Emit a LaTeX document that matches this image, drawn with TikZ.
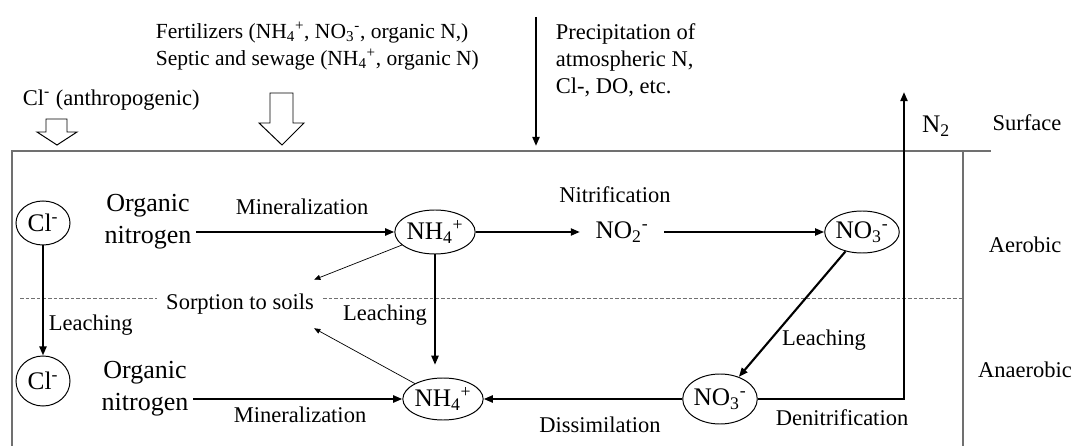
\documentclass[tikz,border=0pt]{standalone}
\usepackage{fontspec}
\setmainfont{Liberation Serif}
\usepackage{xcolor}
\usetikzlibrary{shapes.geometric, arrows.meta}
\definecolor{framegray}{HTML}{707070}

\begin{document}
\begin{tikzpicture}[
    x=0.025cm, y=-0.025cm,
    every node/.style={font=\fontsize{16}{19.2}\selectfont},
    species/.style={
        ellipse,
        draw,
        line width=0.7pt,
        inner sep=0pt,
        font=\fontsize{18}{20}\selectfont
    },
    chem/.style={
        inner xsep=11pt,
        font=\fontsize{18}{20}\selectfont
    },
    source/.style={
        align=center,
        font=\fontsize{18.5}{22.8}\selectfont
    },
    flow/.style={
        -{Triangle[length=6.5pt,width=5pt]},
        line width=1.5pt
    },
    sorb/.style={
        -{Triangle[length=4.5pt,width=3.5pt]},
        line width=0.5pt
    },
    inflow/.style={
        draw,
        fill=white,
        line width=0.7pt
    },
    layer/.style={
        draw=framegray,
        line width=0.9pt
    },
    divide/.style={
        draw=framegray,
        line width=0.6pt,
        dash pattern=on 2.5pt off 1.5pt
    },
    zone/.style={anchor=center}
]
\useasboundingbox (0,0) rectangle (1074,446);

% Soil column
\draw[layer] (12,446) -- (12,151) -- (991,151);
\draw[layer] (963,151) -- (963,446);
\draw[divide] (20,298) -- (157,298) (323,298) -- (963,298);

% Nodes - aerobic row
\node[species, minimum width=1.35cm, minimum height=1.1cm] (cltop) at (43,223) {Cl\textsuperscript{-}};
\node[source] (orgtop) at (148,222) {Organic\\nitrogen};
\node[species, minimum width=1.9cm, minimum height=1.1cm] (nh4top) at (435,232) {NH\textsubscript{4}\textsuperscript{+}};
\node[chem] (no2) at (622,232) {NO\textsubscript{2}\textsuperscript{-}};
\node[species, minimum width=1.75cm, minimum height=1.05cm] (no3top) at (862,232) {NO\textsubscript{3}\textsuperscript{-}};

% Nodes - anaerobic row
\node[species, minimum width=1.35cm, minimum height=1.25cm] (clbot) at (43,381) {Cl\textsuperscript{-}};
\node[source] (orgbot) at (145,389) {Organic\\nitrogen};
\node[species, minimum width=1.85cm, minimum height=1.05cm] (nh4bot) at (443,399) {NH\textsubscript{4}\textsuperscript{+}};
\node[species, minimum width=1.85cm, minimum height=1.25cm] (no3bot) at (720,399) {NO\textsubscript{3}\textsuperscript{-}};
\node[inner xsep=0pt, minimum height=1.2cm] (sorption) at (240,304) {Sorption to soils};

% Inputs from above
\node[anchor=west] (anthro) at (18,100) {Cl\textsuperscript{-} (anthropogenic)};
\node[anchor=west, align=left, font=\fontsize{15.3}{19.2}\selectfont] (fert) at (151,46) {Fertilizers (NH\textsubscript{4}\textsuperscript{+}, NO\textsubscript{3}\textsuperscript{-}, organic N,)\\Septic and sewage (NH\textsubscript{4}\textsuperscript{+}, organic N)};
\node[anchor=west, align=left] (precip) at (551,60) {Precipitation of\\atmospheric N,\\Cl-, DO, etc.};
\coordinate (rain) at (536,17);
\coordinate (rainend) at (536,146);
\coordinate (clin) at (57,145);
\coordinate (fertin) at (282,145);
\coordinate (n2top) at (904,92);

\draw[inflow] (clin) -- ++(-20,-13) -- ++(9,0) -- ++(0,-13) -- ++(21,0) -- ++(0,13) -- ++(10,0) -- cycle;
\draw[inflow] (fertin) -- ++(-23,-22) -- ++(11,0) -- ++(0,-30) -- ++(23,0) -- ++(0,30) -- ++(11,0) -- cycle;
\draw[flow] (rain) -- (rainend);

% Arrows - aerobic row
\draw[flow] (orgtop.east |- nh4top) -- (nh4top);
\draw[flow] (nh4top) -- (no2);
\draw[flow] (no2) -- (no3top);

% Arrows - downward
\draw[flow] (cltop) -- (clbot);
\draw[flow, shorten >=9pt] (nh4top) -- (nh4top |- nh4bot.north);
\draw[flow] (no3top) -- (no3bot);

% Arrows - anaerobic row
\draw[flow] (orgbot.east |- nh4bot) -- (nh4bot);
\draw[flow] (no3bot) -- (nh4bot);
\draw[flow] (no3bot.east) -| (n2top);

% Sorption
\draw[sorb] (nh4top) -- (sorption.north east);
\draw[sorb] (nh4bot) -- (sorption.south east);

% Labels
\node at (302,207) {Mineralization};
\node at (615,195) {Nitrification};
\node[anchor=west] at (44,325) {Leaching};
\node at (385,315) {Leaching};
\node at (824,340) {Leaching};
\node at (300,415) {Mineralization};
\node at (600,425) {Dissimilation};
\node at (842,418) {Denitrification};
\node[font=\fontsize{18}{20}\selectfont] at (936,126) {N\textsubscript{2}};

% Zones
\node[zone] at (1027,123) {Surface};
\node[zone] at (1025,245) {Aerobic};
\node[zone] at (1025,370) {Anaerobic};

\end{tikzpicture}
\end{document}
